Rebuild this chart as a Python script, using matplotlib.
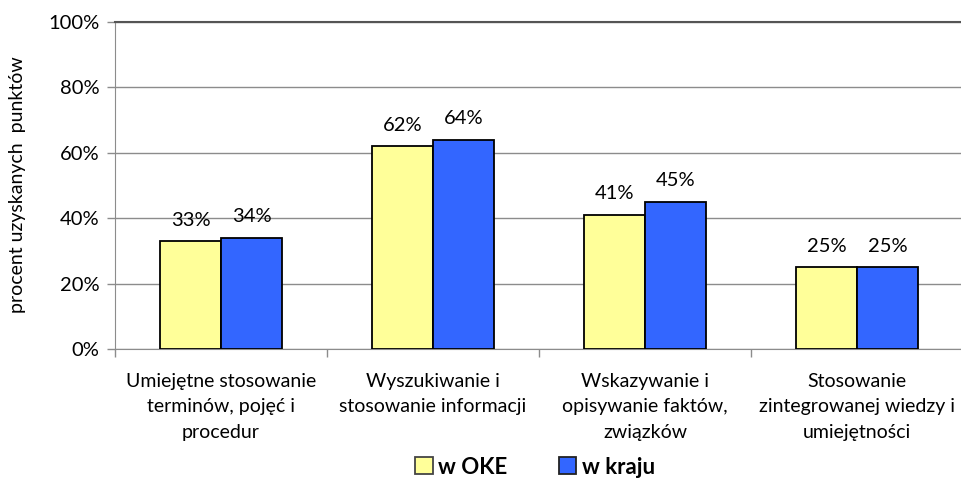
import matplotlib
matplotlib.use("Agg")
import matplotlib.pyplot as plt
import numpy as np
from matplotlib.patches import Patch

plt.rcParams['font.family'] = ['Lato', 'DejaVu Sans']

categories = ["Umiejętne stosowanie\nterminów, pojęć i\nprocedur",
              "Wyszukiwanie i\nstosowanie informacji",
              "Wskazywanie i\nopisywanie faktów,\nzwiązków",
              "Stosowanie\nzintegrowanej wiedzy i\numiejętności"]
oke = [33, 62, 41, 25]
kraj = [34, 64, 45, 25]
series_names = ["w OKE", "w kraju"]
yticks = [0, 20, 40, 60, 80, 100]

fig = plt.figure(figsize=(9.62, 4.8), dpi=100)
ax = fig.add_axes([115/962, 1-349/480, 848/962, 327/480])

x = np.arange(len(categories))
w = 0.288
b1 = ax.bar(x - w/2, oke, w, color="#FFFF99", edgecolor="black", linewidth=1.3, zorder=3)
b2 = ax.bar(x + w/2, kraj, w, color="#3366FF", edgecolor="black", linewidth=1.3, zorder=3)

for bars, vals in ((b1, oke), (b2, kraj)):
    for r, v in zip(bars, vals):
        ax.annotate(f"{v}%", (r.get_x() + r.get_width()/2, v), xytext=(0, 9),
                    textcoords="offset points", ha="center", va="bottom", fontsize=14.5)

ax.set_xlim(-0.5, len(categories) - 0.5)
ax.set_ylim(0, 100)
ax.set_yticks(yticks)
ax.set_yticklabels([f"{t}%" for t in yticks], fontsize=14.5)
ax.yaxis.grid(True, color="#8c8c8c", linewidth=1, zorder=0)
ax.set_axisbelow(True)

ax.set_xticks(x)
ax.set_xticklabels(categories, fontsize=14, linespacing=1.62, va="top")
ax.tick_params(axis="x", length=0, pad=17)
ax.set_xticks(np.arange(len(categories) + 1) - 0.5, minor=True)
ax.tick_params(axis="x", which="minor", length=6, color="#8c8c8c", width=1)
ax.tick_params(axis="y", length=6, color="#8c8c8c", width=1, pad=5)

ax.spines["right"].set_visible(False)
ax.spines["top"].set_color("#555555")
ax.spines["top"].set_linewidth(1.5)
ax.spines["left"].set_color("#8c8c8c")
ax.spines["bottom"].set_color("#8c8c8c")

fig.text(18/962, 1-185/480, "procent uzyskanych  punktów", rotation=90,
         ha="center", va="center", fontsize=14)

handles = [Patch(facecolor="#FFFF99", edgecolor="#444444", linewidth=1.3),
           Patch(facecolor="#3366FF", edgecolor="#222222", linewidth=1.3)]
fig.legend(handles, series_names, loc="center", bbox_to_anchor=(535/962, 1-467/480),
           ncol=2, frameon=False, prop={"weight": "bold", "size": 16},
           handlelength=0.8, handleheight=0.8, handletextpad=0.25, columnspacing=2.3)

fig.savefig("out.png", dpi=100)
